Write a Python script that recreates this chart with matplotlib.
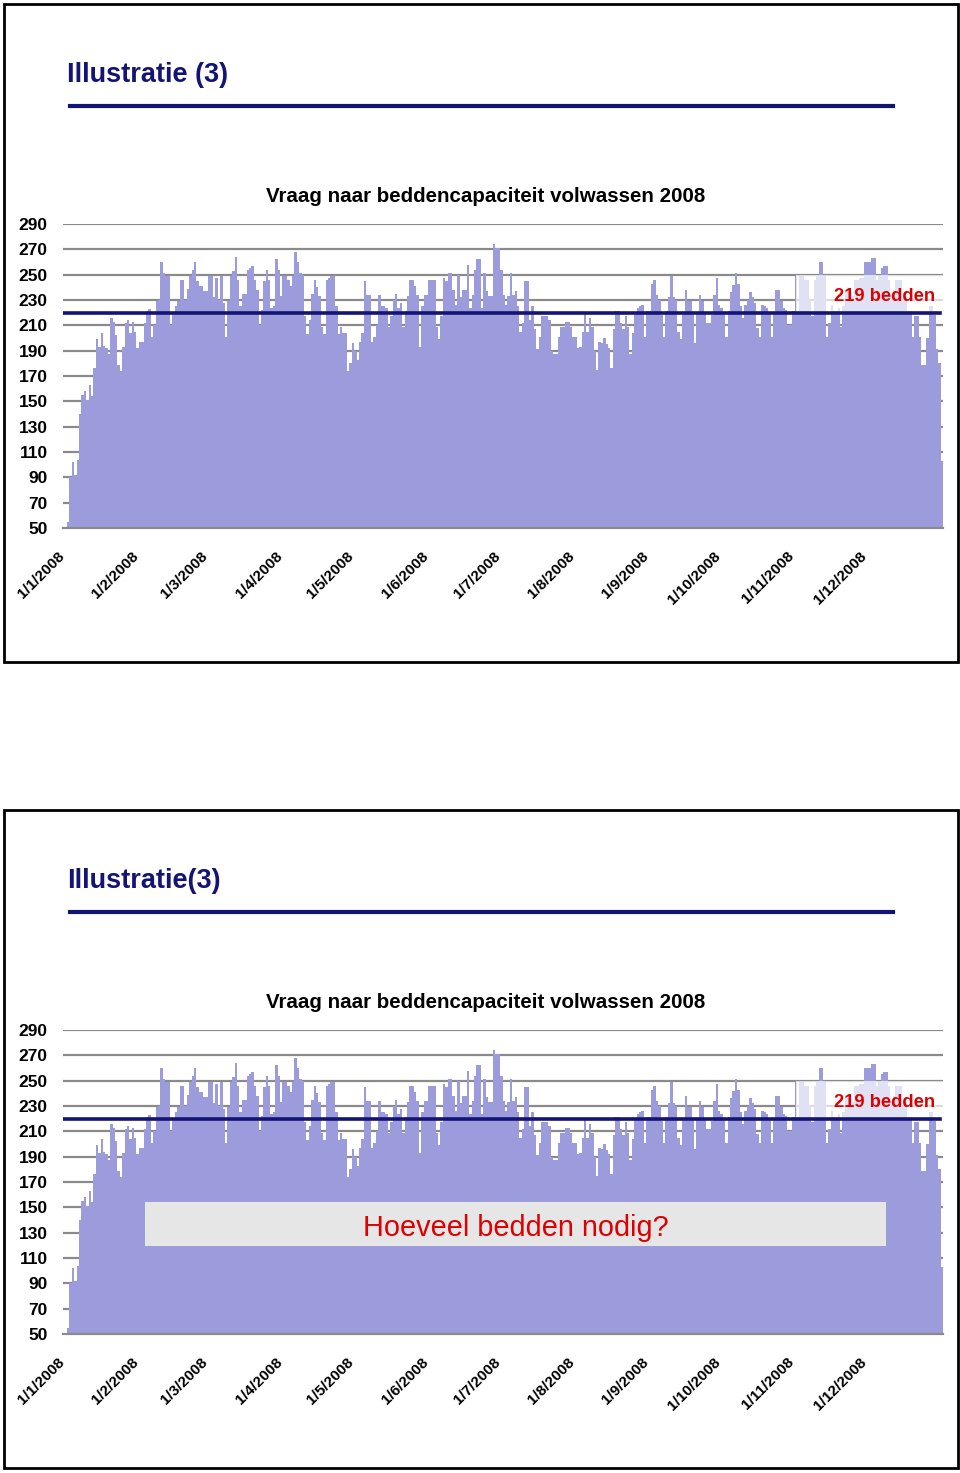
import matplotlib
matplotlib.use("Agg")
import matplotlib.pyplot as plt
from matplotlib.patches import Rectangle
from matplotlib.lines import Line2D
import numpy as np

# ---------------- data (daily bed demand, 2008) ----------------
jan = [55, 90, 102, 92, 104, 140, 155, 158, 151, 163, 154, 176, 199, 193, 204, 194,
       192, 187, 216, 213, 202, 179, 174, 193, 212, 214, 204, 213, 205, 192, 197]
feb = [197, 212, 221, 223, 201, 210, 229, 230, 260, 251, 249, 249, 210, 220, 225,
       229, 246, 246, 230, 239, 249, 254, 260, 245, 241, 241, 237, 237, 249]
mar = [249, 232, 247, 230, 249, 228, 201, 229, 249, 253, 264, 246, 225, 235, 235,
       254, 255, 257, 246, 238, 210, 222, 245, 254, 246, 224, 225, 262, 254, 233, 249]
apr = [249, 246, 241, 249, 268, 260, 251, 250, 217, 203, 214, 235, 246, 240, 233,
       209, 203, 246, 247, 249, 249, 225, 203, 209, 204, 204, 174, 180, 196, 190]
may = [183, 197, 204, 245, 234, 234, 197, 201, 210, 234, 225, 225, 224, 209, 217,
       230, 235, 224, 228, 209, 221, 233, 246, 246, 241, 234, 193, 225, 234, 234, 246]
jun = [246, 246, 209, 199, 217, 247, 245, 251, 251, 238, 226, 250, 232, 238, 238,
       258, 224, 234, 254, 262, 262, 224, 251, 237, 233, 233, 274, 271, 271, 254]
jul = [234, 226, 233, 251, 234, 237, 225, 205, 212, 245, 245, 214, 225, 207, 191,
       201, 217, 217, 217, 214, 190, 187, 187, 201, 209, 209, 213, 213, 209, 201, 201]
aug = [192, 193, 205, 220, 205, 216, 209, 190, 175, 197, 196, 200, 195, 192, 176,
       207, 221, 221, 212, 207, 217, 209, 187, 204, 220, 224, 225, 226, 201, 221, 221]
sep = [243, 246, 234, 230, 218, 201, 221, 232, 249, 232, 230, 205, 199, 220, 238,
       229, 229, 220, 196, 220, 234, 229, 220, 212, 212, 218, 234, 247, 226, 224]
oct_ = [220, 201, 221, 236, 242, 251, 243, 225, 216, 226, 230, 236, 232, 228, 208,
        201, 226, 225, 224, 220, 201, 220, 238, 238, 229, 224, 222, 210, 210, 221, 249]
nov = [221, 249, 249, 246, 246, 230, 217, 246, 249, 260, 260, 249, 201, 212, 226,
       221, 221, 224, 209, 225, 236, 236, 236, 233, 246, 246, 247, 247, 260, 260]
dec = [260, 263, 263, 246, 249, 255, 257, 257, 246, 234, 238, 246, 246, 246, 230,
       233, 221, 221, 201, 217, 217, 201, 179, 179, 200, 225, 225, 218, 191, 180, 103]

months = [jan, feb, mar, apr, may, jun, jul, aug, sep, oct_, nov, dec]
demand = [v for m in months for v in m]

month_labels = ["1/1/2008", "1/2/2008", "1/3/2008", "1/4/2008", "1/5/2008", "1/6/2008",
                "1/7/2008", "1/8/2008", "1/9/2008", "1/10/2008", "1/11/2008", "1/12/2008"]
yticks = list(range(50, 291, 20))
capacity = 220
capacity_label = "219 bedden"
chart_title = "Vraag naar beddencapaciteit volwassen 2008"
slide_titles = ["Illustratie (3)", "Illustratie(3)"]
question = "Hoeveel bedden nodig?"

# ---------------- styling ----------------
W, H = 960, 1473
BAR = "#9c9cdc"
NAVY = "#141475"
RED = "#dd0000"
GRID = "#8a8a8a"

plt.rcParams["font.family"] = ["Liberation Sans", "DejaVu Sans"]

fig = plt.figure(figsize=(W / 100, H / 100), dpi=100)


def fx(x):
    return x / W


def fy(y):
    return 1 - y / H


month_starts = np.cumsum([0] + [len(m) for m in months[:-1]])
days = np.arange(len(demand))


def draw_panel(off, title, with_question):
    # slide border
    fig.add_artist(Rectangle((fx(4), fy(off + 662)), fx(954), (658) / H,
                             transform=fig.transFigure, fill=False,
                             edgecolor="black", lw=2))
    # slide title
    fig.text(fx(67), fy(off + 75), title, color=NAVY, fontsize=19.5,
             fontweight="bold", ha="left", va="center")
    fig.add_artist(Line2D([fx(70), fx(893)], [fy(off + 106), fy(off + 106)],
                          transform=fig.transFigure, color=NAVY, lw=3))
    # chart title
    fig.text(fx(486), fy(off + 196), chart_title, fontsize=14.8, fontweight="bold",
             ha="center", va="center", color="black")

    ax = fig.add_axes([fx(63), fy(off + 528), fx(943 - 63), (528 - 224) / H])
    ax.bar(days, demand, width=1.0, align="edge", color=BAR, lw=0, zorder=2)
    ax.set_xlim(-1.7, len(demand))
    ax.set_ylim(50, 290)
    ax.set_yticks(yticks)
    ax.set_yticklabels([str(t) for t in yticks], fontsize=12.5, fontweight="bold")
    for t in yticks[1:]:
        ax.axhline(t, color=GRID, lw=1.6, zorder=1)
    ax.set_xticks(month_starts)
    ax.set_xticklabels(month_labels, rotation=45, ha="right", va="top",
                       fontsize=11, fontweight="bold")
    ax.tick_params(axis="both", length=0)
    ax.tick_params(axis="y", pad=11)
    ax.tick_params(axis="x", pad=15)
    for s in ["top", "right", "left"]:
        ax.spines[s].set_visible(False)
    ax.spines["bottom"].set_color(GRID)
    ax.spines["bottom"].set_linewidth(1.6)

    # white label box with capacity text
    ax.add_patch(Rectangle((304.5, capacity), 61.5, 29.5, facecolor="white",
                           alpha=0.7, lw=0, zorder=3))
    ax.axhline(capacity, xmin=0.0, xmax=0.997, color=NAVY, lw=2.6, zorder=4)
    ax.text(341.5, 232.5, capacity_label, color=RED, fontsize=13.2,
            fontweight="bold", ha="center", va="center", zorder=5)

    if with_question:
        ax.add_patch(Rectangle((32.6, 119.5), 309.4, 34.7, facecolor="#e6e6e6",
                               lw=0, zorder=3))
        ax.text(187.5, 134.0, question, color=RED, fontsize=20.8,
                ha="center", va="center", zorder=5)


draw_panel(0, slide_titles[0], False)
draw_panel(806, slide_titles[1], True)

fig.savefig("out.png", dpi=100)
